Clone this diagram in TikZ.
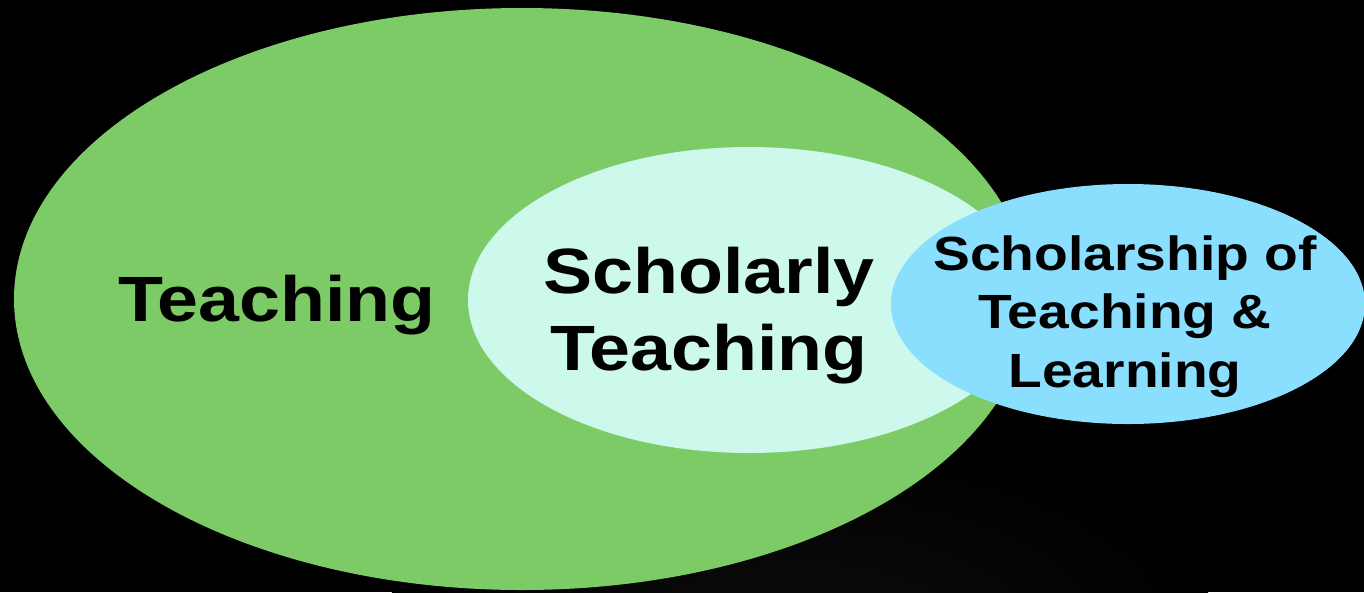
\documentclass[tikz,border=0pt]{standalone}
\usepackage{fontspec}
\newfontfamily\lab[FakeStretch=1.15]{Liberation Sans}
\usetikzlibrary{shapes.geometric}
\definecolor{teachgreen}{RGB}{125,203,102}
\definecolor{scholmint}{RGB}{204,249,236}
\definecolor{sotlblue}{RGB}{138,223,255}
\tikzset{
  blob/.style={ellipse, inner sep=0pt, draw=none},
  lbl/.style={text=black, align=center, inner sep=0pt},
}
\begin{document}
\begin{tikzpicture}[x=1pt,y=-1pt]
  \fill[black] (0,0) rectangle (1364,592);
  \useasboundingbox (0,0) rectangle (1364,592);
  % faint glow at bottom
  \begin{scope}
    \clip (0,0) rectangle (1364,592);
    \shade[inner color=black!95, outer color=black] (800,640) ellipse [x radius=420, y radius=200];
  \end{scope}
  \node[blob, fill=teachgreen, minimum width=1016pt, minimum height=582pt] (teach) at (522,299) {};
  \node[blob, fill=scholmint, minimum width=562pt, minimum height=306pt] (schol) at (749,300) {};
  \node[blob, fill=sotlblue, minimum width=474pt, minimum height=240pt] (sotl) at (1128,304) {};
  \node[lbl, font=\lab\bfseries\fontsize{64}{77}\selectfont, anchor=base] (tlab) at (277,321) {Teaching};
  \node[lbl, font=\lab\bfseries\fontsize{64}{77}\selectfont, anchor=base] (slab) at (709,370) {Scholarly\\Teaching};
  \node[lbl, font=\lab\bfseries\fontsize{48}{58.5}\selectfont, anchor=base] (blab) at (1125,387) {Scholarship of\\Teaching \&\\Learning};
\end{tikzpicture}
\end{document}
